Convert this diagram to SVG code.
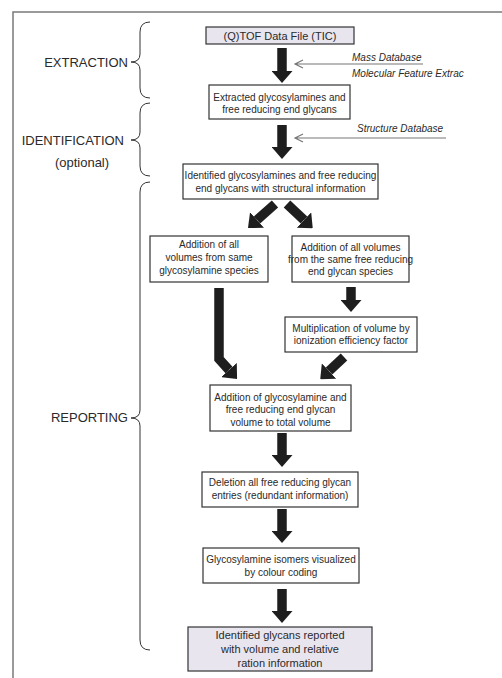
<svg xmlns="http://www.w3.org/2000/svg" width="502" height="678" viewBox="0 0 502 678">
<style>
.box{fill:#fff;stroke:#333;stroke-width:1.2}
.start{fill:#e9e5ef;stroke:#333;stroke-width:1.2}
.t{font-family:"Liberation Sans",Arial,sans-serif;font-size:10px;fill:#2a2a2a;text-anchor:middle}
.tb{font-family:"Liberation Sans",Arial,sans-serif;font-size:11px;fill:#2a2a2a;text-anchor:middle}
.lab{font-family:"Liberation Sans",Arial,sans-serif;font-size:13px;fill:#2a2a2a}
.db{font-family:"Liberation Sans",Arial,sans-serif;font-size:10px;font-style:italic;fill:#2a2a2a}
.arr{fill:none;stroke:#1e1e1e;stroke-width:9.5;stroke-linejoin:miter}
.thin{fill:none;stroke:#777;stroke-width:1.2}
.brace{fill:none;stroke:#333;stroke-width:1}
</style>
<defs>
<marker id="head" viewBox="0 0 12 21" markerWidth="12" markerHeight="21" refX="0" refY="10.5" orient="auto" markerUnits="userSpaceOnUse">
<path d="M0,0 L12,10.5 L0,21 z" fill="#1e1e1e"/>
</marker>
</defs>
<rect width="502" height="678" fill="#fff"/>
<g id="frame">
<path d="M13,678 L13,12 L502,12" fill="none" stroke="#7a7a7a" stroke-width="1.5"/>
</g>
<g id="phases">
<path class="brace" d="M150,22 Q140,22 140,32 L140,54 Q140,62 131,62 Q140,62 140,70 L140,88 Q140,98 150,98"/>
<text class="lab" x="128" y="67" text-anchor="end">EXTRACTION</text>
<path class="brace" d="M150,103 Q140,103 140,113 L140,132 Q140,140 131,140 Q140,140 140,148 L140,166 Q140,176 150,176"/>
<text class="lab" x="124" y="145" text-anchor="end">IDENTIFICATION</text>
<text class="lab" x="82" y="167" text-anchor="middle">(optional)</text>
<path class="brace" d="M150,182 Q140,182 140,192 L140,410 Q140,418 131,418 Q140,418 140,426 L140,640 Q140,650 150,650"/>
<text class="lab" x="128" y="422" text-anchor="end">REPORTING</text>
</g>
<g id="connectors">
<path class="arr" d="M282,48 L282,71" marker-end="url(#head)"/>
<path class="arr" d="M282,125 L282,147" marker-end="url(#head)"/>
<path class="arr" d="M275,204 L257,220" marker-end="url(#head)"/>
<path class="arr" d="M287,204 L304,220" marker-end="url(#head)"/>
<path class="arr" d="M219,288 L219,359 L229,370" marker-end="url(#head)"/>
<path class="arr" d="M351,287 L351,300" marker-end="url(#head)"/>
<path class="arr" d="M344,357 L329,371" marker-end="url(#head)"/>
<path class="arr" d="M282,433 L282,455" marker-end="url(#head)"/>
<path class="arr" d="M282,509 L282,531" marker-end="url(#head)"/>
<path class="arr" d="M282,589 L282,611" marker-end="url(#head)"/>
<path class="thin" d="M423,64 L295,64 M303,60 L295,64 L303,68"/>
<path class="thin" d="M446,138 L295,138 M303,134 L295,138 L303,142"/>
</g>
<g id="inputs">
<text class="db" x="352" y="61">Mass Database</text>
<text class="db" x="352" y="77">Molecular Feature Extrac</text>
<text class="db" x="357" y="132">Structure Database</text>
</g>
<g id="n1">
<rect class="start" x="206" y="27" width="148" height="17"/>
<text class="tb" x="280" y="39.5" font-size="10.5">(Q)TOF Data File (TIC)</text>
</g>
<g id="n2">
<rect class="box" x="209" y="85" width="141" height="34"/>
<text class="t" x="279.5" y="100.5">Extracted glycosylamines and</text>
<text class="t" x="279.5" y="112.5">free reducing end glycans</text>
</g>
<g id="n3">
<rect class="box" x="183" y="164" width="195" height="35"/>
<text class="t" x="280.5" y="178.5">Identified glycosylamines and free reducing</text>
<text class="t" x="280.5" y="191.5">end glycans with structural information</text>
</g>
<g id="n4">
<rect class="box" x="150" y="236" width="118" height="46"/>
<text class="t" x="209" y="247.5">Addition of all</text>
<text class="t" x="209" y="261">volumes from same</text>
<text class="t" x="209" y="273.5">glycosylamine species</text>
</g>
<g id="n5">
<rect class="box" x="292" y="236" width="117" height="46"/>
<text class="t" x="350.5" y="250.5">Addition of all volumes</text>
<text class="t" x="350.5" y="262.5">from the same free reducing</text>
<text class="t" x="350.5" y="274.5">end glycan species</text>
</g>
<g id="n6">
<rect class="box" x="285" y="317" width="132" height="35"/>
<text class="t" x="351" y="331.5">Multiplication of volume by</text>
<text class="t" x="351" y="343.5">ionization efficiency factor</text>
</g>
<g id="n7">
<rect class="box" x="210" y="385" width="141" height="46"/>
<text class="t" x="280.5" y="400.5">Addition of glycosylamine and</text>
<text class="t" x="280.5" y="413">free reducing end glycan</text>
<text class="t" x="280.5" y="425.5">volume to total volume</text>
</g>
<g id="n8">
<rect class="box" x="202" y="472" width="156" height="35"/>
<text class="t" x="280" y="485.5">Deletion all free reducing glycan</text>
<text class="t" x="280" y="498.5">entries (redundant information)</text>
</g>
<g id="n9">
<rect class="box" x="203" y="548" width="156" height="35"/>
<text class="t" x="281" y="562.5">Glycosylamine isomers visualized</text>
<text class="t" x="281" y="575.5">by colour coding</text>
</g>
<g id="n10">
<rect class="start" x="188" y="627" width="184" height="44"/>
<text class="tb" x="280" y="639">Identified glycans reported</text>
<text class="tb" x="280" y="653">with volume and relative</text>
<text class="tb" x="280" y="667">ration information</text>
</g>
</svg>
